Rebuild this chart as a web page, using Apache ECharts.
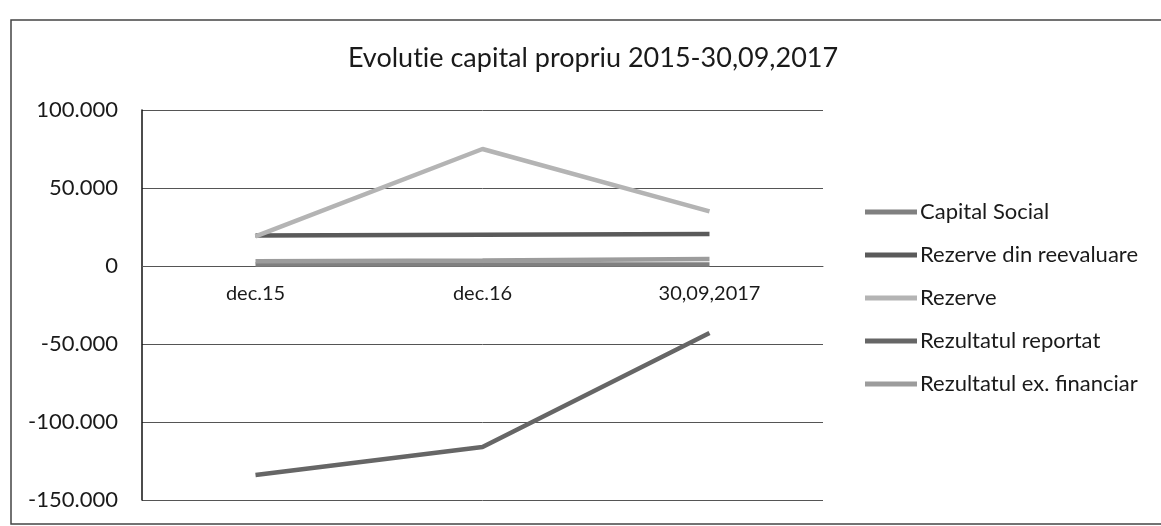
<!DOCTYPE html>
<html>
<head>
<meta charset="utf-8">
<script src="https://cdn.jsdelivr.net/npm/echarts@6/dist/echarts.min.js"></script>
<style>
html,body{margin:0;padding:0;background:#fff;}
#chart{width:1161px;height:526px;}
</style>
</head>
<body>
<div id="chart"></div>
<script>
const titleText = 'Evolut\u200Cie capital propriu 2015-30,09,2017';
const categories = ['dec.15', 'dec.16', '30,09,2017'];
const seriesNames = ['Capital Social', 'Rezerve din reevaluare', 'Rezerve', 'Rezultatul reportat', 'Rezultatul ex. financiar'];
const capitalSocial = [1000, 1000, 1000];
const rezerveReevaluare = [19500, 20000, 20500];
const rezerve = [19000, 75000, 35000];
const rezultatReportat = [-134000, -116000, -43000];
const rezultatExFinanciar = [3000, 3500, 4500];
const seriesColors = ['#808080', '#5a5a5a', '#b4b4b4', '#666666', '#9c9c9c'];
const yMin = -150000, yMax = 100000, yStep = 50000;

const allData = [capitalSocial, rezerveReevaluare, rezerve, rezultatReportat, rezultatExFinanciar];
const FONT = 'Lato, "Open Sans", sans-serif';

const GRID_TOP = 110, GRID_H = 390;

function fmt(v) {
  const s = Math.abs(v).toString().replace(/\B(?=(\d{3})+(?!\d))/g, '.');
  return (v < 0 ? '-' : '') + s;
}

const chart = echarts.init(document.getElementById('chart'), null, {renderer: 'canvas'});
chart.setOption({
  backgroundColor: '#ffffff',
  animation: false,
  title: {
    text: titleText,
    left: 588,
    top: 40,
    textAlign: 'center',
    textStyle: {fontFamily: FONT, fontSize: 27, fontWeight: 'normal', color: '#1a1a1a'}
  },
  graphic: [{
    type: 'rect',
    shape: {x: 11, y: 20, width: 1200, height: 504},
    style: {fill: 'none', stroke: '#444', lineWidth: 1.5},
    silent: true
  }],
  legend: {
    orient: 'vertical',
    left: 860,
    top: 194,
    icon: 'rect',
    itemWidth: 52,
    itemHeight: 5,
    itemGap: 17,
    data: seriesNames,
    textStyle: {fontFamily: FONT, fontSize: 22, color: '#1a1a1a', lineHeight: 26, padding: [0, 0, 0, -2]}
  },
  grid: {left: 142, right: 338, top: GRID_TOP, height: GRID_H, containLabel: false},
  xAxis: {
    type: 'category',
    data: categories,
    boundaryGap: true,
    offset: -(GRID_H * (0 - yMin) / (yMax - yMin)),
    axisLine: {onZero: false, lineStyle: {color: '#555', width: 1}},
    axisTick: {show: false},
    axisLabel: {fontFamily: FONT, fontSize: 20, color: '#1a1a1a', margin: 18}
  },
  yAxis: {
    type: 'value',
    min: yMin,
    max: yMax,
    interval: yStep,
    axisLine: {show: true, lineStyle: {color: '#111', width: 1.5}},
    axisTick: {show: false},
    axisLabel: {fontFamily: FONT, fontSize: 22, color: '#1a1a1a', margin: 24, formatter: fmt},
    splitLine: {show: true, lineStyle: {color: '#555', width: 1}}
  },
  series: seriesNames.map((n, i) => ({
    name: n,
    type: 'line',
    data: allData[i],
    symbol: 'none',
    color: seriesColors[i],
    lineStyle: {width: 4.5, color: seriesColors[i]}
  }))
});
</script>
</body>
</html>
